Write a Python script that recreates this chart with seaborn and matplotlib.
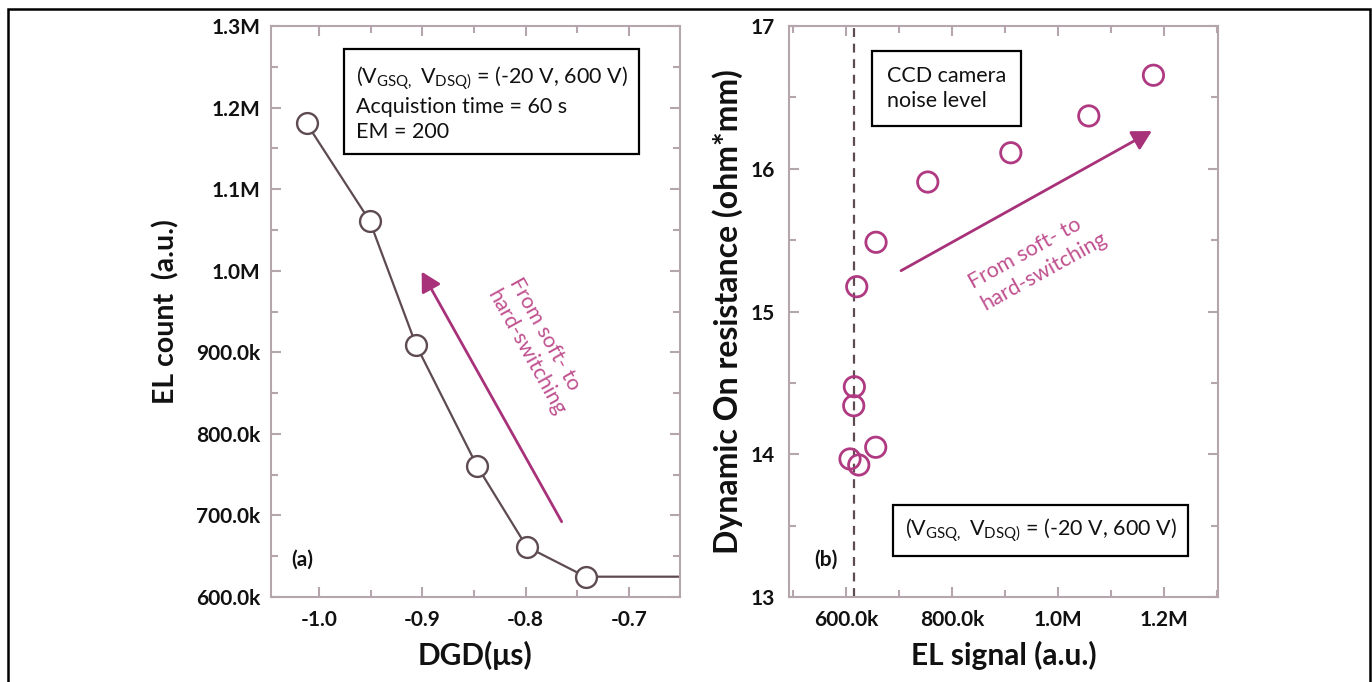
import numpy as np
import pandas as pd
import matplotlib
matplotlib.use("Agg")
import matplotlib.pyplot as plt
import seaborn as sns
from matplotlib.ticker import MultipleLocator, FixedLocator, FuncFormatter
from matplotlib.patches import Rectangle

# ---------------- data ----------------
# panel (a): EL count versus DGD (last point lies beyond the visible x-range)
dgd_us = [-1.012, -0.951, -0.906, -0.847, -0.799, -0.742, -0.55]
el_count = [1180700, 1061300, 908900, 760600, 661700, 624900, 624900]

# panel (b): dynamic on-resistance versus EL signal
el_signal = [1179800, 1057900, 910800, 754200, 656600, 620200,
             615700, 614500, 656000, 607500, 624000]
r_on = [16.655, 16.370, 16.112, 15.907, 15.485, 15.174,
        14.473, 14.340, 14.049, 13.967, 13.925]
noise_level = 615000

left_xticks = [-1.0, -0.9, -0.8, -0.7]
left_yticks = [600000, 700000, 800000, 900000, 1000000, 1100000, 1200000, 1300000]
right_xticks = [600000, 800000, 1000000, 1200000]
right_yticks = [13, 14, 15, 16, 17]

# ---------------- style ----------------
sns.set_theme(style="white")
plt.rcParams["font.family"] = ["Lato", "DejaVu Sans"]
plt.rcParams["axes.unicode_minus"] = False
plt.rcParams["mathtext.default"] = "regular"

DARK = "#5e4b52"
SPINE = "#b5a5ad"
MAG = "#b03a82"
ARROW = "#a8327a"
ATXT = "#c0508f"
INK = "#111111"

FIG_W, FIG_H = 1372, 682
fig = plt.figure(figsize=(FIG_W / 100, FIG_H / 100), dpi=100)


def axes_rect(x0, x1, ytop, ybot):
    return [x0 / FIG_W, 1 - ybot / FIG_H, (x1 - x0) / FIG_W, (ybot - ytop) / FIG_H]


axL = fig.add_axes(axes_rect(270.7, 680.0, 26.0, 597.0))
axR = fig.add_axes(axes_rect(789.3, 1217.7, 26.0, 597.0))


def kfmt(v, pos=None):
    if v >= 1e6 - 1:
        return f"{v / 1e6:.1f}M"
    return f"{v / 1e3:.1f}k"


def style_axes(ax, ypad):
    for s in ax.spines.values():
        s.set_visible(True)
        s.set_color(SPINE)
        s.set_linewidth(1.5)
    ax.tick_params(which="both", direction="in", top=True, right=True,
                   bottom=True, left=True, color=SPINE, width=1.5,
                   labelsize=15, labelcolor=INK)
    ax.tick_params(which="major", length=7.2)
    ax.tick_params(which="minor", length=4.8)
    ax.tick_params(axis="x", which="major", pad=9)
    ax.tick_params(axis="y", which="major", pad=ypad)


def bold_ticklabels(ax):
    for lab in ax.get_xticklabels() + ax.get_yticklabels():
        lab.set_fontweight("bold")


# ---------------- panel (a) ----------------
sns.lineplot(x=dgd_us, y=el_count, ax=axL, sort=False, color=DARK, lw=1.6,
             marker="o", markersize=15, markerfacecolor="white",
             markeredgecolor=DARK, markeredgewidth=1.7)
axL.set_xlim(-1.0467, -0.6506)
axL.set_ylim(600000, 1300000)
axL.xaxis.set_major_locator(FixedLocator(left_xticks))
axL.xaxis.set_minor_locator(MultipleLocator(0.05))
axL.yaxis.set_major_locator(FixedLocator(left_yticks))
axL.yaxis.set_minor_locator(MultipleLocator(50000))
axL.yaxis.set_major_formatter(FuncFormatter(kfmt))
axL.xaxis.set_major_formatter(FuncFormatter(lambda v, p: f"{v:.1f}"))
style_axes(axL, 7.5)
axL.set_xlabel("DGD(μs)", fontsize=21.5, fontweight="bold", color=INK)
axL.set_ylabel("EL count  (a.u.)", fontsize=20.5, fontweight="bold", color=INK)
axL.xaxis.set_label_coords(0.5, -0.076)
axL.yaxis.set_label_coords(-0.222, 0.5)

axL.text(0.5395, 0.8643,
         "(V$_{\\mathregular{GSQ,}}$ V$_{\\mathregular{DSQ)}}$ = (-20 V, 600 V)\n"
         "Acquistion time = 60 s\nEM = 200",
         transform=axL.transAxes, ha="center", va="center", ma="left",
         fontsize=15.5, color=INK, linespacing=1.3,
         bbox=dict(boxstyle="square,pad=0.55", fc="white", ec="black", lw=1.6))
axL.text(0.0765, 0.0648, "(a)", transform=axL.transAxes, ha="center",
         va="center", fontsize=15, fontweight="bold", color=INK)
axL.annotate("", xy=(-0.9006, 998800), xytext=(-0.7651, 692300),
             arrowprops=dict(arrowstyle="-|>,head_length=0.4,head_width=0.22",
                             mutation_scale=29, color=ARROW, lw=2,
                             shrinkA=0, shrinkB=0))
axL.text(-0.789, 906500, "From soft- to\nhard-switching", rotation=-61,
         ha="center", va="center", ma="left", fontsize=15.5, color=ATXT,
         linespacing=1.3)

# ---------------- panel (b) ----------------
axR.axvline(noise_level, color=DARK, lw=1.6, ls=(0, (4, 3)), zorder=1)
sns.scatterplot(x=el_signal, y=r_on, ax=axR, s=215, color=MAG, zorder=3)
coll = axR.collections[-1]
coll.set_facecolor("none")
coll.set_edgecolor(MAG)
coll.set_linewidth(2.0)
axR.set_xlim(493000, 1301000)
axR.set_ylim(13, 17)
axR.xaxis.set_major_locator(FixedLocator(right_xticks))
axR.xaxis.set_minor_locator(MultipleLocator(100000))
axR.xaxis.set_major_formatter(FuncFormatter(kfmt))
axR.yaxis.set_major_locator(FixedLocator(right_yticks))
axR.yaxis.set_minor_locator(MultipleLocator(0.5))
style_axes(axR, 10.5)
axR.set_xlabel("EL signal (a.u.)", fontsize=21.5, fontweight="bold", color=INK)
axR.set_ylabel("Dynamic On resistance (ohm*mm)", fontsize=23,
               fontweight="bold", color=INK)
axR.xaxis.set_label_coords(0.5, -0.076)
axR.yaxis.set_label_coords(-0.107, 0.5)

axR.text(0.3674, 0.8902, "CCD camera\nnoise level", transform=axR.transAxes,
         ha="center", va="center", ma="left", fontsize=15.5, color=INK,
         linespacing=1.3,
         bbox=dict(boxstyle="square,pad=0.7", fc="white", ec="black", lw=1.6))
axR.text(0.5868, 0.117,
         "(V$_{\\mathregular{GSQ,}}$ V$_{\\mathregular{DSQ)}}$ = (-20 V, 600 V)",
         transform=axR.transAxes, ha="center", va="center", fontsize=15.5,
         color=INK,
         bbox=dict(boxstyle="square,pad=0.55", fc="white", ec="black", lw=1.6))
axR.text(0.0857, 0.0648, "(b)", transform=axR.transAxes, ha="center",
         va="center", fontsize=15, fontweight="bold", color=INK)
axR.annotate("", xy=(1176800, 16.264), xytext=(703800, 15.286),
             arrowprops=dict(arrowstyle="-|>,head_length=0.4,head_width=0.22",
                             mutation_scale=29, color=ARROW, lw=2,
                             shrinkA=0, shrinkB=0))
axR.text(962000, 15.36, "From soft- to\nhard-switching", rotation=29,
         ha="center", va="center", ma="left", fontsize=15.5, color=ATXT,
         linespacing=1.3)

# outer frame of the figure
fig.patches.append(Rectangle((8 / FIG_W, -0.05), (1370 - 8) / FIG_W,
                             1.05 - 8.7 / FIG_H, transform=fig.transFigure,
                             fill=False, ec="black", lw=1.8))

bold_ticklabels(axL)
bold_ticklabels(axR)
fig.savefig("out.png", dpi=100)
